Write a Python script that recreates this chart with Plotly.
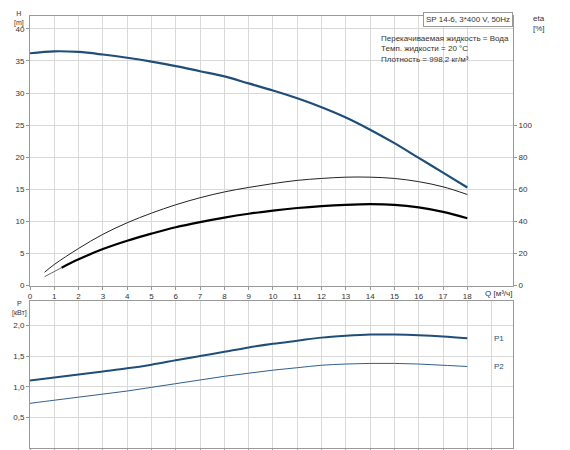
import plotly.graph_objects as go

Q = [0,1,2,3,4,5,6,7,8,9,10,11,12,13,14,15,16,17,18]
H = [36.2,36.5,36.4,36.0,35.5,34.9,34.2,33.4,32.6,31.5,30.4,29.2,27.8,26.2,24.3,22.2,19.9,17.6,15.3]
Q_eta1 = [0.6,1,2,3,4,5,6,7,8,9,10,11,12,13,14,15,16,17,18]
eta1 = [8.4,13.2,23.2,32,39.2,45.2,50.4,54.8,58.4,61.2,63.6,65.6,66.8,67.6,67.6,66.8,64.8,61.6,56.8]
Q_eta2 = [1.3,2,3,4,5,6,7,8,9,10,11,12,13,14,15,16,17,18]
eta2 = [11.2,16.4,22.8,28,32.4,36.4,39.6,42.4,44.8,46.8,48.4,49.6,50.4,50.8,50.4,48.8,46,42]
Q_eta2_ext = [0.6,1.3]
eta2_ext = [5.6,11.2]
P1 = [1.1,1.15,1.2,1.25,1.3,1.36,1.43,1.5,1.57,1.64,1.7,1.75,1.8,1.83,1.85,1.85,1.84,1.82,1.79]
P2 = [0.73,0.78,0.83,0.88,0.93,0.99,1.05,1.11,1.17,1.22,1.27,1.31,1.35,1.37,1.38,1.38,1.37,1.35,1.33]

blue = "#1f4e79"
fig = go.Figure()
def line(x, y, color, width, xa, ya):
    fig.add_trace(go.Scatter(x=x, y=y, mode="lines", line=dict(color=color, width=width, shape="spline"),
                             xaxis=xa, yaxis=ya, hoverinfo="x+y"))
line(Q, H, blue, 2.2, "x", "y")
line(Q_eta1, eta1, "#222", 1, "x", "y3")
line(Q_eta2_ext, eta2_ext, "#444", 0.8, "x", "y3")
line(Q_eta2, eta2, "#000", 2.2, "x", "y3")
line(Q, P1, blue, 2, "x2", "y2")
line(Q, P2, "#2f5f8f", 1, "x2", "y2")

ax = dict(showgrid=True, gridcolor="#d9d9d9", linecolor="#999", mirror=True, showline=True,
          zeroline=False, tickfont=dict(size=8, color="#333"), ticks="outside", ticklen=3, tickcolor="#999")
fig.update_layout(
    width=570, height=450, showlegend=False, plot_bgcolor="white", paper_bgcolor="white",
    margin=dict(l=22, r=65, t=0, b=0), separators=",.",
    font=dict(family="Liberation Sans", size=8, color="#333"),
    xaxis=dict(**ax, range=[0, 19.88], tickvals=list(range(0, 19)), domain=[0, 1], anchor="y"),
    yaxis=dict(**ax, range=[0, 42], dtick=5, domain=[0.376, 0.982]),
    yaxis3=dict(overlaying="y", side="right", range=[0, 168], tickvals=[0,20,40,60,80,100],
                showgrid=False, zeroline=False, tickfont=dict(size=8, color="#333"), ticks="outside",
                ticklen=3, tickcolor="#999", showline=False),
    xaxis2=dict(**ax, range=[0, 19.88], tickvals=list(range(0, 20)), showticklabels=False, anchor="y2"),
    yaxis2=dict(**ax, range=[0, 2.4], tickvals=[0.5, 1.0, 1.5, 2.0], tickformat=".1f", domain=[0.011, 0.342]),
)
ann = [
    dict(x=0, y=1.0, xref="paper", yref="paper", text="H<br>[m]", xanchor="right", yanchor="top", xshift=-4,
         font=dict(size=7)),
    dict(x=1, y=0.99, xref="paper", yref="paper", text="eta<br>[%]", xanchor="left", yanchor="top", xshift=18, align="left"),
    dict(x=19.3, y=0, xref="x", yref="y", text="Q [м³/ч]", yanchor="top", yshift=-1, bgcolor="white"),
    dict(x=0, y=0.348, xref="paper", yref="paper", text="P<br>[кВт]", xanchor="right", yanchor="top", xshift=-1,
         font=dict(size=7)),
    dict(x=1, y=0.99, xref="paper", yref="paper", text="SP 14-6, 3*400 V, 50Hz", xanchor="right", yanchor="top",
         bordercolor="#999", borderwidth=1, bgcolor="white", borderpad=2),
    dict(x=0.995, y=0.945, xref="paper", yref="paper", align="left", xanchor="right", yanchor="top",
         text="Перекачиваемая жидкость = Вода<br>Темп. жидкости = 20 °C<br>Плотность = 998,2 кг/м³"),
    dict(x=19.3, y=1.79, xref="x2", yref="y2", text="P1", font=dict(color=blue)),
    dict(x=19.3, y=1.33, xref="x2", yref="y2", text="P2", font=dict(color=blue)),
]
fig.update_layout(annotations=[dict(showarrow=False, **a) for a in ann])
fig.write_html("out.html")
